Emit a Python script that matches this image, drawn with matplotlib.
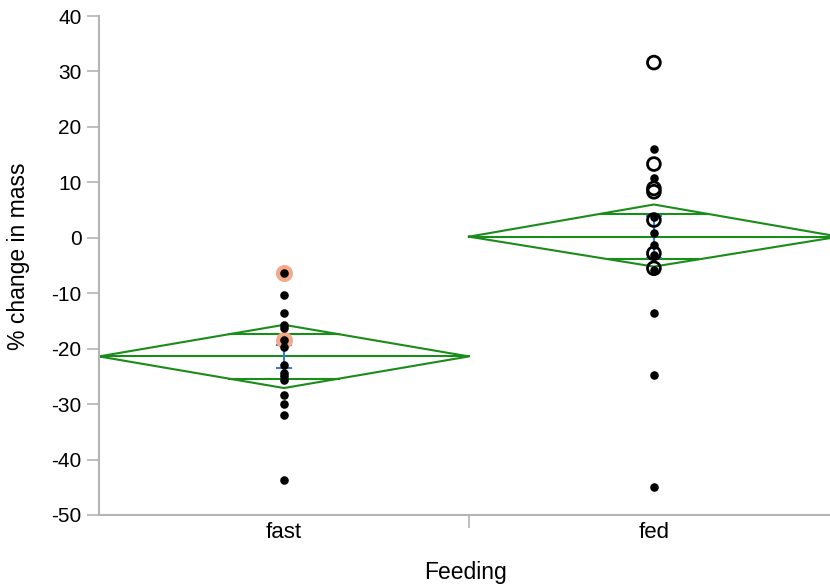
import numpy as np
import matplotlib
matplotlib.use("Agg")
import matplotlib.pyplot as plt

plt.rcParams['font.family'] = ['Liberation Sans', 'DejaVu Sans']
plt.rcParams['axes.unicode_minus'] = False

groups = ["fast", "fed"]

# % change in mass
fast_vals = [-6.3, -10.3, -13.5, -15.7, -16.3, -18.4, -19.7, -22.9, -24.4,
             -25.0, -25.6, -28.4, -29.9, -32.0, -43.7]
fast_flagged = [-6.3, -18.4]          # points with orange halo
fed_filled = [16.0, 10.7, 3.8, 0.9, -1.3, -3.1, -5.8, -13.5, -24.7, -44.9]
fed_open = [31.6, 13.3, 8.9, 8.3, 3.2, -2.8, -5.5]

# means diamonds: mean, upper/lower 95% CI, overlap marks, std error bars
means = [-21.4, 0.2]
ci_hi = [-15.7, 6.0]
ci_lo = [-27.1, -5.2]
ovl_hi = [-17.4, 4.35]
ovl_lo = [-25.4, -3.9]
se_hi = [-19.3, 4.0]
se_lo = [-23.4, -3.6]

green = '#1a8c1a'
blue = '#3a78e0'
orange = '#f4a98a'
gray = '#b4b4b4'

fig = plt.figure(figsize=(8.3, 5.86), dpi=100)
ax = fig.add_axes([99 / 830, 1 - 515 / 586, 731 / 830, 499 / 586])

centers = [0.5, 1.5]
half = 0.5
for i, c in enumerate(centers):
    m = means[i]
    # diamond
    ax.plot([c - half, c, c + half, c, c - half],
            [m, ci_hi[i], m, ci_lo[i], m], color=green, lw=1.5, zorder=2)
    ax.plot([c - half, c + half], [m, m], color=green, lw=1.5, zorder=2)
    # overlap marks are chords of the diamond
    for y, top in ((ovl_hi[i], ci_hi[i]), (ovl_lo[i], ci_lo[i])):
        w = half * (1 - (y - m) / (top - m))
        ax.plot([c - w, c + w], [y, y], color=green, lw=1.5, zorder=2)
    # std error bars
    ax.plot([c, c], [se_lo[i], se_hi[i]], color=blue, lw=1.5, zorder=3)
    for y in (se_lo[i], se_hi[i]):
        ax.plot([c - 0.02, c + 0.02], [y, y], color=blue, lw=1.5, zorder=3)

# points
ax.scatter([centers[0]] * len(fast_flagged), fast_flagged, s=150,
           color=orange, zorder=4, linewidths=0)
ax.scatter([centers[0]] * len(fast_vals), fast_vals, s=38,
           color='black', zorder=5, linewidths=0)
ax.scatter([centers[1]] * len(fed_filled), fed_filled, s=38,
           color='black', zorder=5, linewidths=0)
ax.scatter([centers[1]] * len(fed_open), fed_open, s=85,
           facecolors='none', edgecolors='black', linewidths=2, zorder=5)

ax.set_xlim(0, 1.976)
ax.set_ylim(-50, 40)
ax.set_yticks(np.arange(-50, 41, 10))
ax.set_xticks([1.0])
ax.set_xticklabels([''])
ax.set_xticks(centers, minor=True)
ax.set_xticklabels(groups, minor=True)

for s in ['top', 'right']:
    ax.spines[s].set_visible(False)
for s in ['left', 'bottom']:
    ax.spines[s].set_color(gray)
    ax.spines[s].set_linewidth(1.5)
ax.tick_params(axis='y', which='major', color=gray, width=1.2, length=9,
               labelsize=15, pad=3.5)
ax.tick_params(axis='x', which='major', color=gray, width=1.2, length=9)
ax.tick_params(axis='x', which='minor', length=0, labelsize=16, pad=5)

ax.set_ylabel('% change in mass', fontsize=16.5)
ax.yaxis.set_label_coords(18 / 830, 1 - 256 / 586, transform=fig.transFigure)
ax.yaxis.label.set_verticalalignment('center')
ax.set_xlabel('Feeding', fontsize=16.5)
ax.xaxis.set_label_coords(465 / 830, 1 - 572 / 586, transform=fig.transFigure)
ax.xaxis.label.set_verticalalignment('center')

fig.savefig('out.png', dpi=100)
